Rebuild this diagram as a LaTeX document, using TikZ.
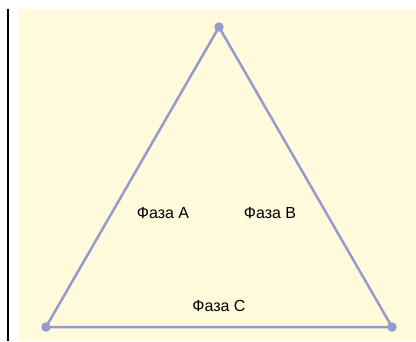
\documentclass[tikz,border=0pt]{standalone}
\usepackage{fontspec}
\setmainfont{Liberation Sans}
\definecolor{panelbg}{RGB}{255,250,220}
\definecolor{phaseline}{RGB}{150,155,205}

\begin{document}
\begin{tikzpicture}[x=1pt,y=-1pt,vertex/.style={circle,fill=phaseline,inner sep=0pt,minimum size=9.5pt},side/.style={draw=phaseline,line width=2.5pt},label/.style={font=\fontsize{16}{18}\selectfont,inner sep=0pt}]
\useasboundingbox (0,0) rectangle (416,341);
\fill[panelbg] (19,9) rectangle (416,341);
\draw[line width=2.4pt] (8,9) -- (8,341);
\node[vertex] (top) at (219,27) {};
\node[vertex] (left) at (46,327) {};
\node[vertex] (right) at (392,327) {};
\draw[side] (left.center) -- (top.center) -- (right.center) -- (left.center);
\node[label] (phaseA) at (163,213) {Фаза A};
\node[label] (phaseB) at (270,213) {Фаза B};
\node[label] (phaseC) at (219,306) {Фаза C};
\end{tikzpicture}
\end{document}
